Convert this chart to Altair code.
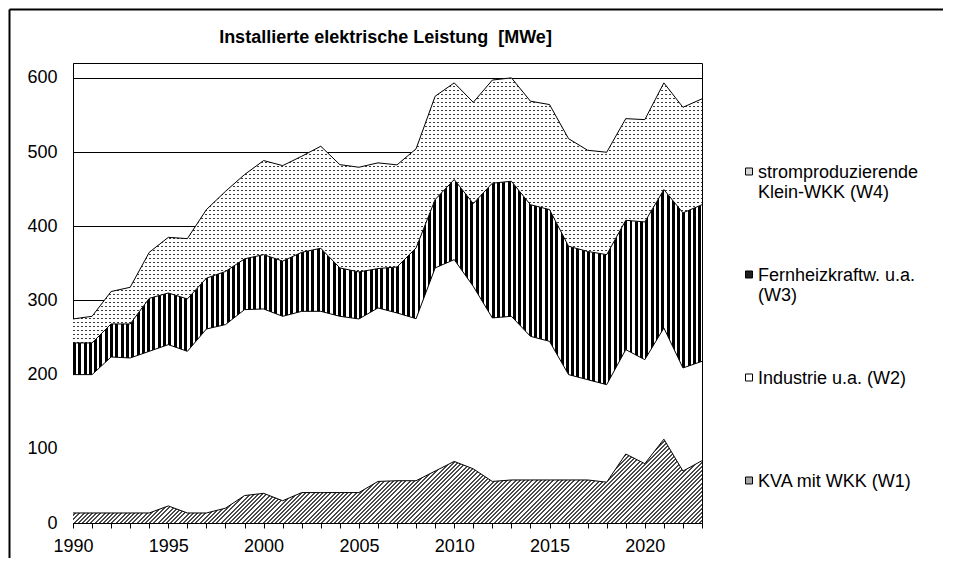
import altair as alt
import pandas as pd

# ---------------- data ----------------
years = list(range(1990, 2024))
w1 = [13.5, 13.5, 13.5, 13.5, 13.5, 23.0, 13.5, 13.5, 20.0, 37.0, 40.0, 30.0,
      41.0, 41.0, 41.0, 41.0, 56.0, 57.0, 57.0, 70.0, 83.0, 73.0, 56.0, 58.0,
      58.0, 58.0, 58.0, 58.0, 55.0, 93.0, 80.0, 113.0, 70.0, 84.0]
w2 = [186.5, 186.5, 210.3, 208.9, 217.9, 217.4, 217.9, 248.0, 247.4, 250.6,
      248.5, 248.6, 244.3, 244.3, 237.6, 234.0, 233.9, 226.1, 218.4, 273.8,
      272.0, 246.0, 220.4, 220.6, 193.6, 186.9, 142.0, 135.2, 131.5, 140.7,
      140.2, 149.9, 139.0, 133.9]
w3 = [42.7, 42.7, 44.5, 45.9, 71.4, 69.6, 70.6, 68.5, 71.6, 68.4, 73.2, 74.4,
      79.5, 85.0, 65.2, 63.4, 53.0, 62.0, 95.4, 92.2, 107.9, 111.5, 181.6,
      182.0, 177.4, 177.5, 173.0, 172.8, 175.2, 174.3, 185.6, 186.5, 209.0,
      211.1]
w4 = [32.3, 35.9, 43.7, 49.4, 62.0, 75.0, 81.3, 92.4, 108.0, 113.6, 126.8,
      128.7, 129.5, 137.5, 139.2, 141.1, 142.5, 137.6, 133.5, 139.2, 130.3,
      136.5, 139.0, 139.4, 139.5, 141.6, 145.0, 136.4, 138.0, 137.0, 137.9,
      143.8, 142.3, 142.7]

series_names = ["stromproduzierende\nKlein-WKK (W4)",
                "Fernheizkraftw. u.a.\n(W3)",
                "Industrie u.a. (W2)",
                "KVA mit WKK (W1)"]
legend_colors = ["#d6d6d6", "#1e1e1e", "#ffffff", "#a6a6a6"]
y_ticks = [0, 100, 200, 300, 400, 500, 600]
title_text = "Installierte elektrische Leistung \u00a0[MWe]"

# ---------------- layout ----------------
W, H = 629, 460
YMAX = 620
FONT = "Liberation Sans"

df = pd.DataFrame({"year": years, "w1": w1, "w2": w2, "w3": w3, "w4": w4})
df["c1"] = df["w1"]
df["c2"] = df["c1"] + df["w2"]
df["c3"] = df["c2"] + df["w3"]
df["c4"] = df["c3"] + df["w4"]

long_df = pd.DataFrame({
    "year": years * 4,
    "value": w4 + w3 + w2 + w1,
    "series": [series_names[0]] * len(years) + [series_names[1]] * len(years)
              + [series_names[2]] * len(years) + [series_names[3]] * len(years),
})


def stripe_stops(length, period, frac, on, off):
    stops = []
    a = 0.0
    while a < length - 1e-9:
        b = min(a + period * frac, length)
        e = min(a + period, length)
        stops += [(a, on), (b, on), (b, off), (e, off)]
        a += period
    return [alt.GradientStop(color=c, offset=round(o / length, 6)) for o, c in stops]


# W3: vertical black/white stripes
grad_w3 = alt.LinearGradient(gradient="linear", x1=0, y1=0, x2=1, y2=0,
                             stops=stripe_stops(W, 5.3, 0.55, "#000000", "#ffffff"))

# W1: diagonal hatch (45 degrees in pixel space)
H1 = max(w1) / YMAX * H
r = H1 / W
L1 = (W + H1) * 1.01
dx = L1 / (W * (1 + r * r))
grad_w1 = alt.LinearGradient(gradient="linear", x1=0, y1=0, x2=dx, y2=dx * r,
                             stops=stripe_stops(L1, 4.2, 0.45, "#4a4a4a", "#ffffff"))

# W4: dotted (grey columns masked by white rows)
H4 = (df["c4"].max() - df["c3"].min()) / YMAX * H
grad_w4_base = alt.LinearGradient(gradient="linear", x1=0, y1=0, x2=1, y2=0,
                                  stops=stripe_stops(W, 4.0, 0.38, "#3a3a3a", "#ffffff"))
grad_w4_mask = alt.LinearGradient(gradient="linear", x1=0, y1=0, x2=0, y2=1,
                                  stops=stripe_stops(H4, 4.0, 0.38, "rgba(255,255,255,0)", "#ffffff"))


def X():
    return alt.X("year:Q", title=None,
                 scale=alt.Scale(domain=[1990, 2023], nice=False, zero=False),
                 axis=alt.Axis(values=years, format="d",
                               labelExpr="datum.value % 5 == 0 ? datum.label : ''",
                               tickSize=5, labelPadding=9, grid=False,
                               labelFlush=False, labelOverlap=False))


def Y(field):
    return alt.Y(field, type="quantitative", title=None,
                 scale=alt.Scale(domain=[0, YMAX], nice=False),
                 axis=alt.Axis(values=y_ticks, ticks=False, tickSize=0,
                               labelPadding=16, grid=True, labelFlush=False))


base = alt.Chart(df)

a1 = base.mark_area(fill=grad_w1).encode(x=X(), y=Y("c1"))
a2 = base.mark_area(fill="#ffffff").encode(x=X(), y=Y("c2"), y2="c1")
a3 = base.mark_area(fill=grad_w3).encode(x=X(), y=Y("c3"), y2="c2")
a4 = base.mark_area(fill=grad_w4_base).encode(x=X(), y=Y("c4"), y2="c3")
a4m = base.mark_area(fill=grad_w4_mask).encode(x=X(), y=Y("c4"), y2="c3")

lines = [base.mark_line(color="#000000", strokeWidth=1).encode(x=X(), y=Y(f))
         for f in ["c1", "c2", "c3", "c4"]]

legend_layer = alt.Chart(long_df).mark_point(filled=True, opacity=0).encode(
    x=X(), y=Y("value"),
    color=alt.Color("series:N",
                    scale=alt.Scale(domain=series_names, range=legend_colors),
                    legend=alt.Legend(
                        orient="none", legendX=667, legendY=92, title=None,
                        labelExpr="split(datum.label, '\\n')",
                        labelBaseline="top", labelFontSize=18, labelFont=FONT,
                        labelColor="#000000", labelLimit=400, labelOffset=0,
                        gridAlign="all", rowPadding=56, padding=0,
                        symbolType="M-1,1.14H1V3.14H-1Z", symbolSize=49,
                        symbolStrokeColor="#000000", symbolStrokeWidth=1,
                        symbolOpacity=1)))

frame_df = pd.DataFrame({"k": [0]})
frame_top = alt.Chart(frame_df).mark_rule(color="#000000", strokeWidth=2).encode(
    x=alt.value(-63.5), x2=alt.value(870), y=alt.value(-53.5))
frame_left = alt.Chart(frame_df).mark_rule(color="#000000", strokeWidth=2).encode(
    x=alt.value(-63.5), y=alt.value(-53.5), y2=alt.value(495))

chart = alt.layer(a1, a2, a3, a4, a4m, *lines, legend_layer, frame_top, frame_left).properties(
    width=W, height=H,
    title=alt.Title(text=title_text, fontSize=18, font=FONT, fontWeight="bold",
                    color="#000000", anchor="middle", baseline="alphabetic",
                    offset=-52, dx=-2),
    autosize=alt.AutoSizeParams(type="none"),
    padding={"left": 65, "top": 55, "right": 241, "bottom": 35},
).configure_view(
    stroke="#000000", strokeWidth=1
).configure_axis(
    labelFont=FONT, labelFontSize=18, labelColor="#000000",
    domainColor="#000000", domainWidth=1, tickColor="#000000", tickWidth=1,
    gridColor="#000000", gridWidth=1, gridOpacity=1
)

chart.save("out.html", embed_options={"renderer": "svg", "actions": False})
